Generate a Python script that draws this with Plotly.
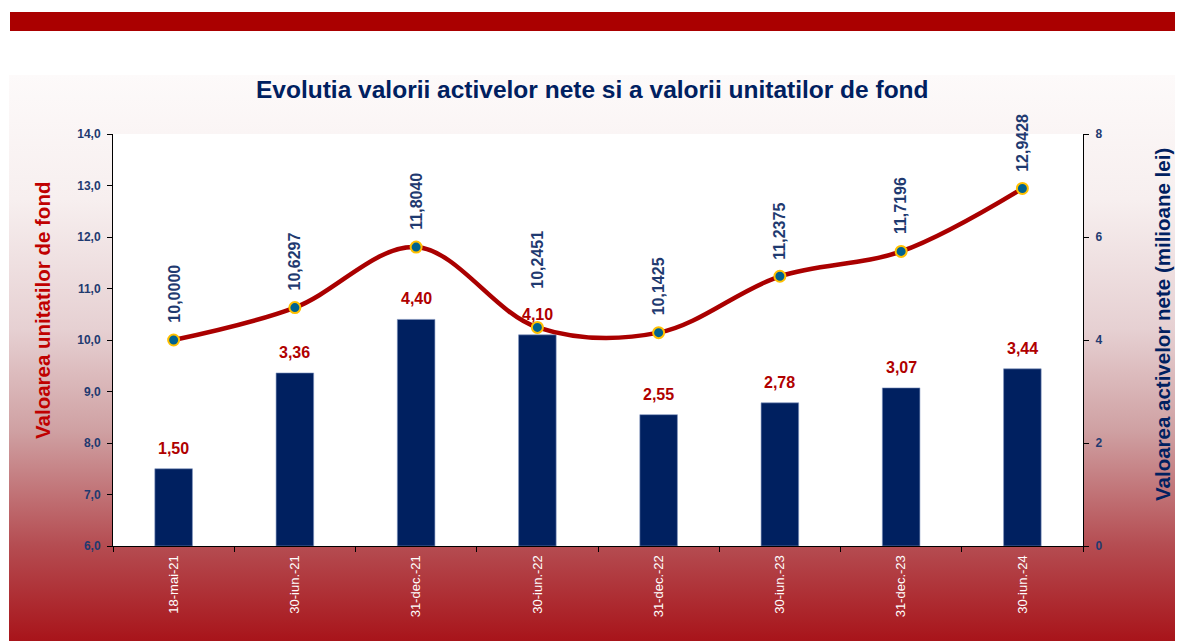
import base64
import plotly.graph_objects as go

# ---------------- data ----------------
categories = ['18-mai-21', '30-iun.-21', '31-dec.-21', '30-iun.-22',
              '31-dec.-22', '30-iun.-23', '31-dec.-23', '30-iun.-24']
unit_values = [10.0000, 10.6297, 11.8040, 10.2451, 10.1425, 11.2375, 11.7196, 12.9428]
net_assets = [1.50, 3.36, 4.40, 4.10, 2.55, 2.78, 3.07, 3.44]
left_ticks = [6, 7, 8, 9, 10, 11, 12, 13, 14]
right_ticks = [0, 2, 4, 6, 8]

title_text = 'Evolutia valorii activelor nete si a valorii unitatilor de fond'
left_title = 'Valoarea unitatilor de fond'
right_title = 'Valoarea activelor nete (milioane lei)'

# ---------------- style ----------------
W, H = 1184, 641
FONT = 'Liberation Sans, Arial, sans-serif'
NAVY = '#002060'
TICK_NAVY = '#1F3A70'
RED = '#C00000'
LINE_RED = '#AA0000'

plot_l, plot_r, plot_t, plot_b = 113, 1083, 134, 546
# extra vertical offset (px) of some unit-value labels, as in the original
label_extra_shift = {'30-iun.-22': 22}


def px_x(x):
    return x / W


def px_y(y):
    return 1 - y / H


fig = go.Figure()

fig.add_trace(go.Bar(
    x=categories, y=net_assets, yaxis='y', xaxis='x',
    marker=dict(color=NAVY, line=dict(color='#7F93BF', width=0.6)),
    width=0.31, showlegend=False, hoverinfo='x+y',
))

fig.add_trace(go.Scatter(
    x=categories, y=unit_values, yaxis='y2', xaxis='x',
    mode='lines+markers',
    line=dict(color=LINE_RED, width=4.5, shape='spline', smoothing=1.0),
    marker=dict(size=11, color='#00628F', line=dict(color='#FFC000', width=2)),
    showlegend=False, hoverinfo='x+y',
))

annotations = []
for c, v in zip(categories, unit_values):
    annotations.append(dict(
        x=c, y=v, xref='x', yref='y2', text=f'{v:.4f}'.replace('.', ','),
        textangle=-90, showarrow=False, yanchor='bottom', xanchor='center',
        yshift=15 + label_extra_shift.get(c, 0),
        font=dict(family=FONT, size=16, color=TICK_NAVY, weight='bold'),
    ))
for c, v in zip(categories, net_assets):
    annotations.append(dict(
        x=c, y=v, xref='x', yref='y', text=f'{v:.2f}'.replace('.', ','),
        showarrow=False, yanchor='bottom', xanchor='center',
        yshift=10, font=dict(family=FONT, size=16, color='#B00000', weight='bold'),
    ))

annotations.append(dict(
    x=px_x(592), y=px_y(89), xref='paper', yref='paper', text=title_text,
    showarrow=False, xanchor='center', yanchor='middle',
    font=dict(family=FONT, size=24.5, color=NAVY, weight='bold'),
))
annotations.append(dict(
    x=px_x(42), y=px_y(311), xref='paper', yref='paper', text=left_title,
    showarrow=False, xanchor='center', yanchor='middle', textangle=-90,
    font=dict(family=FONT, size=20.5, color=RED, weight='bold'),
))
annotations.append(dict(
    x=px_x(1163), y=px_y(325), xref='paper', yref='paper', text=right_title,
    showarrow=False, xanchor='center', yanchor='middle', textangle=-90,
    font=dict(family=FONT, size=20.5, color=NAVY, weight='bold'),
))

# gradient background as an SVG image
stops = [(0.0, '#FDFAFA'), (0.22, '#F7EFEF'), (0.45, '#E6D0D2'),
         (0.63, '#CFA0A2'), (0.83, '#B54D52'), (1.0, '#A8141A')]
stop_xml = ''.join(f'<stop offset="{o}" stop-color="{c}"/>' for o, c in stops)
svg = ('<svg xmlns="http://www.w3.org/2000/svg" width="100" height="100" '
       'preserveAspectRatio="none"><defs><linearGradient id="g" x1="0" y1="0" '
       f'x2="0" y2="1">{stop_xml}</linearGradient></defs>'
       '<rect width="100" height="100" fill="url(#g)"/></svg>')
svg_uri = 'data:image/svg+xml;base64,' + base64.b64encode(svg.encode()).decode()

images = [dict(
    source=svg_uri, xref='paper', yref='paper',
    x=px_x(9), y=px_y(75), sizex=(1175 - 9) / W, sizey=(H - 75) / H,
    xanchor='left', yanchor='top', sizing='stretch', layer='below',
)]

shapes = [
    dict(type='rect', xref='paper', yref='paper', x0=px_x(10), x1=px_x(1175),
         y0=px_y(31), y1=px_y(12), fillcolor='#AA0000', line=dict(width=0),
         layer='below'),
    dict(type='rect', xref='paper', yref='paper', x0=px_x(plot_l), x1=px_x(plot_r),
         y0=px_y(plot_b), y1=px_y(plot_t), fillcolor='white', line=dict(width=0),
         layer='below'),
]

tick_font = dict(family=FONT, size=12, color=TICK_NAVY, weight='bold')

fig.update_layout(
    width=W, height=H, autosize=False,
    margin=dict(l=0, r=0, t=0, b=0, autoexpand=False),
    paper_bgcolor='white', plot_bgcolor='white',
    separators=',.',
    xaxis=dict(
        domain=[px_x(plot_l), px_x(plot_r)],
        type='category', categoryorder='array', categoryarray=categories,
        showline=True, linecolor='black', linewidth=1,
        ticks='outside', ticklen=5, tickcolor='black', tickson='boundaries',
        tickangle=-90, showgrid=False, zeroline=False, ticklabelstandoff=3,
        tickfont=dict(family=FONT, size=13, color='white'),
    ),
    yaxis=dict(
        domain=[px_y(plot_b), px_y(plot_t)],
        side='right', range=[0, 8], tickvals=right_ticks, tickformat='d',
        showline=True, linecolor='black', linewidth=1,
        ticks='outside', ticklen=5, tickcolor='black', ticklabelstandoff=4,
        showgrid=False, zeroline=False, tickfont=tick_font,
    ),
    yaxis2=dict(
        overlaying='y', side='left', range=[6, 14], tickvals=left_ticks,
        tickformat='.1f',
        showline=True, linecolor='black', linewidth=1,
        ticks='outside', ticklen=5, tickcolor='black', ticklabelstandoff=4,
        showgrid=False, zeroline=False, tickfont=tick_font,
    ),
    annotations=annotations, images=images, shapes=shapes,
)

post = (
    "var gd=document.getElementById('{plot_id}');"
    "gd.style.position='absolute';gd.style.left='0px';gd.style.top='0px';"
    "document.body.style.margin='0';document.body.style.padding='0';"
)

fig.write_html('out.html', config={'displayModeBar': False, 'responsive': False},
               post_script=post)
